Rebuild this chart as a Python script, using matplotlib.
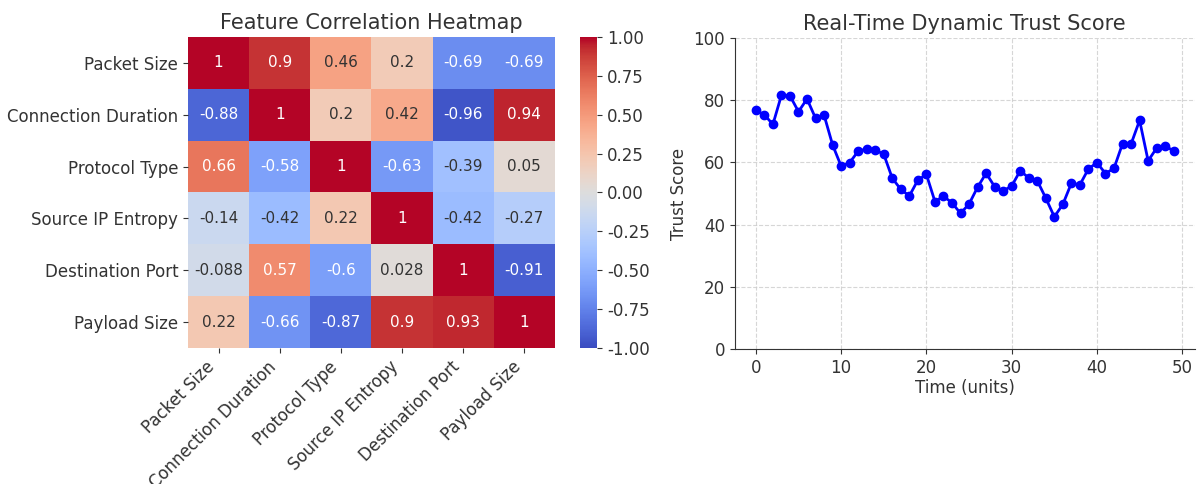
import matplotlib
matplotlib.use("Agg")
import matplotlib.pyplot as plt
import numpy as np

features = [
    "Packet Size",
    "Connection Duration",
    "Protocol Type",
    "Source IP Entropy",
    "Destination Port",
    "Payload Size",
]

corr = np.array([
    [1.0, 0.9, 0.46, 0.2, -0.69, -0.69],
    [-0.88, 1.0, 0.2, 0.42, -0.96, 0.94],
    [0.66, -0.58, 1.0, -0.63, -0.39, 0.05],
    [-0.14, -0.42, 0.22, 1.0, -0.42, -0.27],
    [-0.088, 0.57, -0.6, 0.028, 1.0, -0.91],
    [0.22, -0.66, -0.87, 0.9, 0.93, 1.0],
])

time_units = np.arange(50)
trust_score = [
    76.7, 75.3, 72.2, 81.6, 81.4, 76.3, 80.4, 74.2, 75.2, 65.6,
    58.8, 59.9, 63.6, 64.3, 64.0, 62.6, 54.9, 51.3, 49.2, 54.3,
    56.1, 47.4, 49.1, 47.0, 43.6, 46.6, 52.0, 56.5, 52.2, 50.8,
    52.4, 57.3, 55.0, 54.1, 48.5, 42.5, 46.5, 53.3, 52.8, 57.9,
    59.9, 56.4, 58.1, 66.0, 65.9, 73.5, 60.5, 64.6, 65.2, 63.7,
]

cbar_ticks = [-1.0, -0.75, -0.5, -0.25, 0.0, 0.25, 0.5, 0.75, 1.0]

ink = "#333333"
plt.rcParams.update({
    "text.color": ink,
    "axes.labelcolor": ink,
    "xtick.color": ink,
    "ytick.color": ink,
    "axes.edgecolor": ink,
})


def luminance(rgb):
    rgb = np.asarray(rgb[:3], dtype=float)
    lin = np.where(rgb <= 0.03928, rgb / 12.92, ((rgb + 0.055) / 1.055) ** 2.4)
    return 0.2126 * lin[0] + 0.7152 * lin[1] + 0.0722 * lin[2]


fig = plt.figure(figsize=(11.97, 4.84), dpi=100)

# heatmap
ax_h = fig.add_axes([0.157, 0.281, 0.3066, 0.6426])
ax_c = fig.add_axes([0.4846, 0.281, 0.0142, 0.6426])
cmap = plt.get_cmap("coolwarm")
norm = plt.Normalize(-1, 1)
n = len(features)
mesh = ax_h.pcolormesh(np.arange(n + 1), np.arange(n + 1), corr, cmap=cmap, norm=norm)
ax_h.set_xlim(0, n)
ax_h.set_ylim(n, 0)
for i in range(n):
    for j in range(n):
        val = corr[i, j]
        color = ink if luminance(cmap(norm(val))) > 0.408 else "white"
        ax_h.text(j + 0.5, i + 0.5, f"{val:.2g}", ha="center", va="center",
                  fontsize=11, color=color)
ax_h.set_xticks(np.arange(n) + 0.5)
ax_h.set_xticklabels(features, rotation=45, ha="right", fontsize=12)
ax_h.set_yticks(np.arange(n) + 0.5)
ax_h.set_yticklabels(features, fontsize=12)
for s in ax_h.spines.values():
    s.set_visible(False)
ax_h.set_title("Feature Correlation Heatmap", fontsize=15)

cb = fig.colorbar(mesh, cax=ax_c, ticks=cbar_ticks)
cb.outline.set_visible(False)
cb.ax.set_yticklabels([f"{t:.2f}" for t in cbar_ticks], fontsize=12)

# trust score line
ax_l = fig.add_axes([0.614, 0.279, 0.384, 0.6426])
ax_l.plot(time_units, trust_score, marker="o", color="blue", markersize=6, linewidth=2)
ax_l.set_ylim(0, 100)
ax_l.set_title("Real-Time Dynamic Trust Score", fontsize=15)
ax_l.set_xlabel("Time (units)", fontsize=12, labelpad=2)
ax_l.set_ylabel("Trust Score", fontsize=12)
ax_l.tick_params(labelsize=12)
ax_l.spines["top"].set_visible(False)
ax_l.spines["right"].set_visible(False)
ax_l.grid(True, linestyle="--", color="#cccccc", linewidth=0.8, alpha=0.8)

fig.savefig("out.png", dpi=100)
